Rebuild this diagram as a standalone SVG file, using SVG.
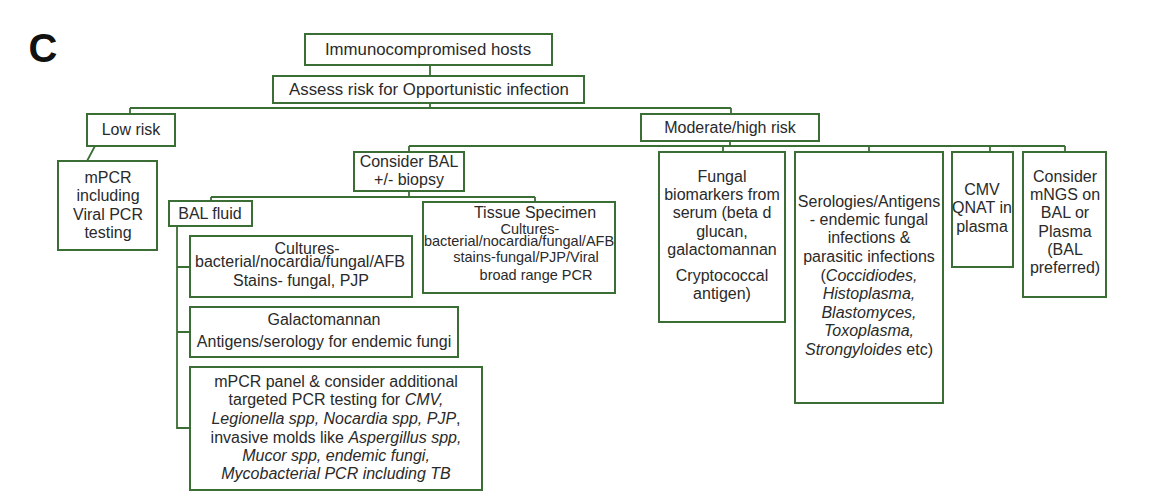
<svg xmlns="http://www.w3.org/2000/svg" width="1170" height="504" viewBox="0 0 1170 504">
<style>
.box{fill:#fff;stroke:#3b6e35;stroke-width:2}
.ln{fill:none;stroke:#3b6e35;stroke-width:1.8}
text{font-family:"Liberation Sans",Arial,sans-serif;font-size:16px;fill:#2a2a2a;text-anchor:middle}
.it{font-style:italic}
.sm{font-size:14.5px}
.lg{font-size:16.8px}
</style>
<rect width="1170" height="504" fill="#fff"/>
<text x="43" y="62" style="font-size:40px;font-weight:bold;fill:#111">C</text>
<g id="connectors">
<path class="ln" d="M430,65V76 M430,103V108 M130,108H731 M130,108V114 M731,108V114"/>
<path class="ln" d="M95,146L87,161"/>
<path class="ln" d="M730,141V146 M409,146H1065 M409,146V152 M723,146V152 M869,146V152 M990,146V152 M1065,146V152"/>
<path class="ln" d="M409,191V197 M211,197H535 M211,197V201 M535,197V202"/>
<path class="ln" d="M177,226V428H190 M177,267H190 M177,332H190"/>
</g>
<g id="immuno"><rect class="box" x="305" y="34" width="247" height="31"/><text class="lg" x="428" y="55">Immunocompromised hosts</text></g>
<g id="assess"><rect class="box" x="273" y="76" width="311" height="27"/><text class="lg" x="429" y="95">Assess risk for Opportunistic infection</text></g>
<g id="lowrisk"><rect class="box" x="87" y="114" width="88" height="32"/><text x="131" y="135">Low risk</text></g>
<g id="moderate"><rect class="box" x="641" y="114" width="178" height="27"/><text x="730" y="133">Moderate/high risk</text></g>
<g id="mpcr-low"><rect class="box" x="58" y="161" width="99" height="89"/>
<text x="108" y="183">mPCR</text><text x="108" y="201">including</text><text x="108" y="220">Viral PCR</text><text x="108" y="238">testing</text></g>
<g id="considerbal"><rect class="box" x="354" y="152" width="110" height="39"/><text x="409" y="167">Consider BAL</text><text x="409" y="185">+/- biopsy</text></g>
<g id="fungal"><rect class="box" x="659" y="152" width="126" height="170"/>
<text x="722" y="182">Fungal</text><text x="722" y="200">biomarkers from</text><text x="722" y="218">serum (beta d</text><text x="722" y="237">glucan,</text><text x="722" y="255">galactomannan</text><text x="722" y="281">Cryptococcal</text><text x="722" y="299">antigen)</text></g>
<g id="serologies"><rect class="box" x="795" y="152" width="148" height="251"/>
<text x="869" y="207">Serologies/Antigens</text><text x="869" y="225">- endemic fungal</text><text x="869" y="243">infections &amp;</text><text x="869" y="262">parasitic infections</text>
<text x="869" y="281">(<tspan class="it">Coccidiodes,</tspan></text><text x="869" y="299" class="it">Histoplasma,</text><text x="869" y="318" class="it">Blastomyces,</text><text x="869" y="336" class="it">Toxoplasma,</text><text x="869" y="355"><tspan class="it">Strongyloides</tspan> etc)</text></g>
<g id="cmv"><rect class="box" x="952" y="152" width="61" height="115"/>
<text x="982" y="195">CMV</text><text x="982" y="213">QNAT in</text><text x="982" y="232">plasma</text></g>
<g id="mngs"><rect class="box" x="1023" y="152" width="83" height="145"/>
<text x="1065" y="182">Consider</text><text x="1065" y="200">mNGS on</text><text x="1065" y="218">BAL or</text><text x="1065" y="237">Plasma</text><text x="1065" y="255">(BAL</text><text x="1065" y="273">preferred)</text></g>
<g id="balfluid"><rect class="box" x="169" y="201" width="83" height="25"/><text x="210" y="219">BAL fluid</text></g>
<g id="tissue"><rect class="box" x="423" y="202" width="192" height="91"/>
<text x="535" y="218">Tissue Specimen</text><text x="530" y="234" class="sm">Cultures-</text><text x="519" y="246" class="sm">bacterial/nocardia/fungal/AFB</text><text x="526" y="262" class="sm">stains-fungal/PJP/Viral</text><text x="536" y="280" class="sm">broad range PCR</text></g>
<g id="cultures"><rect class="box" x="190" y="236" width="222" height="61"/>
<text x="307" y="254">Cultures-</text><text x="300" y="267">bacterial/nocardia/fungal/AFB</text><text x="301" y="286">Stains- fungal, PJP</text></g>
<g id="galacto"><rect class="box" x="190" y="307" width="268" height="50"/>
<text x="324" y="325">Galactomannan</text><text x="324" y="347">Antigens/serology for endemic fungi</text></g>
<g id="mpcr-panel"><rect class="box" x="190" y="367" width="292" height="123"/>
<text x="336" y="387">mPCR panel &amp; consider additional</text>
<text x="336" y="405">targeted PCR testing for <tspan class="it">CMV,</tspan></text>
<text x="336" y="424"><tspan class="it">Legionella spp, Nocardia spp, PJP</tspan>,</text>
<text x="336" y="443">invasive molds like <tspan class="it">Aspergillus spp,</tspan></text>
<text x="336" y="461" class="it">Mucor spp, endemic fungi,</text>
<text x="336" y="479" class="it">Mycobacterial PCR including TB</text></g>
</svg>
